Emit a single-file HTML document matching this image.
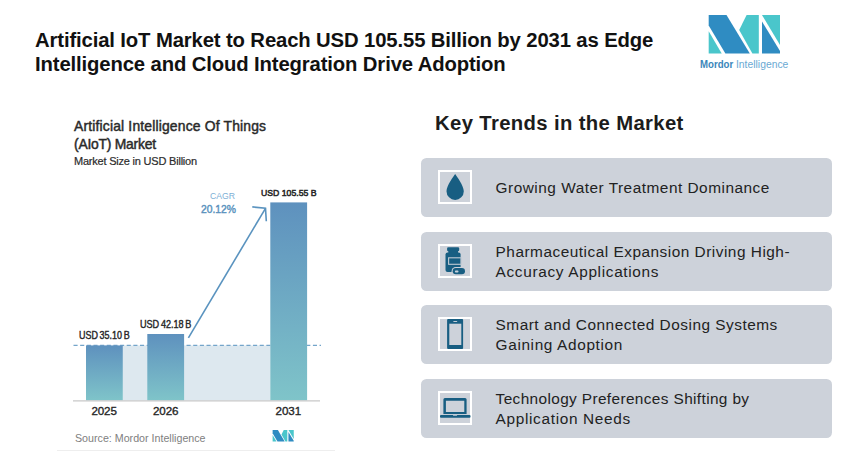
<!DOCTYPE html>
<html><head><meta charset="utf-8">
<style>
*{margin:0;padding:0;box-sizing:border-box}
html,body{width:860px;height:472px;background:#fff;overflow:hidden;font-family:"Liberation Sans",sans-serif}
.a{position:absolute;white-space:nowrap}
.sx{transform-origin:0 0}
.t1{font-weight:bold;font-size:20.3px;line-height:24px;color:#111;left:35px;letter-spacing:-0.13px}
.kt{font-weight:bold;font-size:20.3px;line-height:24px;color:#1c1c1c;left:435px;top:110.5px;letter-spacing:0.36px}
.card{position:absolute;left:421.1px;width:410.7px;height:58.8px;background:#cdd2da;border-radius:5.5px}
.ib{position:absolute;left:16.9px;top:12px;width:34.3px;height:34px;border:2px solid #fff}
.ib svg{position:absolute;left:0;top:0}
.ct{position:absolute;left:74.5px;font-size:15.4px;line-height:20px;color:#222;white-space:nowrap;letter-spacing:0.5px}
.ch1{font-size:13.9px;line-height:18px;color:#2a2a2a;left:74px;-webkit-text-stroke:0.45px #2a2a2a;letter-spacing:0.17px}
.lbl{font-size:10.1px;line-height:12px;color:#262626;-webkit-text-stroke:0.4px #262626;word-spacing:-0.9px}
.yr{font-size:11.6px;line-height:14px;color:#262626;-webkit-text-stroke:0.35px #262626;letter-spacing:-0.1px}
</style></head><body>
<div class="a t1" style="top:27.5px">Artificial IoT Market to Reach USD 105.55 Billion by 2031 as Edge</div>
<div class="a t1" style="top:51.5px">Intelligence and Cloud Integration Drive Adoption</div>

<!-- logo -->
<svg class="a" style="left:0;top:0" width="860" height="80" viewBox="0 0 860 80">
  <polygon points="708.7,15.1 726.5,15.1 749.8,53.4 725.4,53.4 708.7,25.4" fill="#2f8cc2"/>
  <polygon points="708.7,31.2 708.7,53.4 721.7,53.4" fill="#4ac6cb"/>
  <polygon points="746.6,15.1 758.8,15.1 758.8,53.4 752.4,53.4 739.2,30.1" fill="#4ac6cb"/>
  <polygon points="762,15.1 780,15.1 780,45" fill="#4ac6cb"/>
  <polygon points="762,21.6 780,51 780,53.4 762,53.4" fill="#2f8cc2"/>
</svg>
<div class="a sx" style="left:699.6px;top:57.8px;font-size:11px;line-height:13px;color:#3b86ba;font-weight:bold;transform:scaleX(0.875)">Mordor</div>
<div class="a sx" style="left:735.6px;top:57.8px;font-size:11px;line-height:13px;color:#6aa9d3;transform:scaleX(0.94)">Intelligence</div>

<!-- chart -->
<div class="a ch1" style="top:116.7px">Artificial Intelligence Of Things</div>
<div class="a ch1" style="top:134.5px;letter-spacing:-0.24px">(AIoT) Market</div>
<div class="a" style="left:74px;top:154.5px;font-size:11px;line-height:13px;color:#2c2c2c;-webkit-text-stroke:0.2px #2c2c2c;letter-spacing:-0.21px">Market Size in USD Billion</div>

<svg class="a" style="left:0;top:0" width="430" height="472" viewBox="0 0 430 472">
  <defs>
    <linearGradient id="bg" x1="0" y1="0" x2="0" y2="1">
      <stop offset="0" stop-color="#5e91be"/>
      <stop offset="1" stop-color="#7fc4c9"/>
    </linearGradient>
    <linearGradient id="bg2" gradientUnits="userSpaceOnUse" x1="0" y1="202.4" x2="0" y2="400.4">
      <stop offset="0" stop-color="#5e91be"/>
      <stop offset="1" stop-color="#7fc4c9"/>
    </linearGradient>
  </defs>
  <rect x="122.8" y="345.4" width="147.5" height="55" fill="#dde8ef"/>
  <line x1="73.5" y1="345.4" x2="321" y2="345.4" stroke="#74a5ca" stroke-width="1.1" stroke-dasharray="4.1,2.55"/>
  <rect x="86" y="345.4" width="36.8" height="55" fill="url(#bg)"/>
  <rect x="147.3" y="334" width="36.8" height="66.4" fill="url(#bg)"/>
  <rect x="270.3" y="202.4" width="36.8" height="198" fill="url(#bg2)"/>
  <line x1="73" y1="400.8" x2="320" y2="400.8" stroke="#c8c8c8" stroke-width="1.2"/>
  <line x1="188.4" y1="337.8" x2="265.5" y2="208.3" stroke="#5a93bf" stroke-width="1.6"/>
  <polyline points="252.3,206.9 265.5,208.3 266.3,221.2" fill="none" stroke="#5a93bf" stroke-width="1.6"/>
  <line x1="57" y1="450.5" x2="335" y2="450.5" stroke="#eee" stroke-width="1"/>
  <g transform="translate(272.6,430.1) scale(0.278,0.281)">
    <polygon points="0,0 19,0 43.5,40.5 17.5,40.5 0,11" fill="#2f8cc2"/>
    <polygon points="0,17 0,40.5 14,40.5" fill="#4ac6cb"/>
    <polygon points="40,0 53,0 53,40.5 46,40.5 32,16" fill="#4ac6cb"/>
    <polygon points="57,0 76,0 76,32" fill="#4ac6cb"/>
    <polygon points="57,7 76,38 76,40.5 57,40.5" fill="#2f8cc2"/>
  </g>
</svg>
<div class="a lbl sx" style="left:79.2px;top:329.7px;transform:scaleX(0.887)">USD 35.10 B</div>
<div class="a lbl sx" style="left:140px;top:318.8px;transform:scaleX(0.9)">USD 42.18 B</div>
<div class="a lbl sx" style="left:260.9px;top:186.5px;font-size:9.7px;word-spacing:0;transform:scaleX(0.896);-webkit-text-stroke:0.55px #262626">USD 105.55 B</div>
<div class="a sx" style="left:209.8px;top:189.7px;font-size:9.6px;line-height:12px;color:#7db0d6;transform:scaleX(0.905)">CAGR</div>
<div class="a sx" style="left:200.6px;top:201.6px;font-size:11.4px;line-height:14px;color:#5b93be;-webkit-text-stroke:0.45px #5b93be;transform:scaleX(0.906)">20.12%</div>
<div class="a yr" style="left:91.4px;top:403.8px">2025</div>
<div class="a yr" style="left:153px;top:403.8px">2026</div>
<div class="a yr" style="left:275.6px;top:403.8px">2031</div>
<div class="a sx" style="left:74.6px;top:432.1px;font-size:11.3px;line-height:13px;color:#808080;transform:scaleX(0.945)">Source: Mordor Intelligence</div>

<!-- right panel -->
<div class="a kt">Key Trends in the Market</div>

<div class="card" style="top:158px">
  <div class="ib"><svg width="34.3" height="34" viewBox="0 0 34.3 34" style="left:-2px;top:-2px"><path d="M17.15,3.9 C15.9,5.9 8.5,15.4 8.5,21.25 A8.65,8.65 0 0 0 25.8,21.25 C25.8,15.4 18.4,5.9 17.15,3.9 Z" fill="#185e82"/></svg></div>
  <div class="ct" style="top:19.9px">Growing Water Treatment Dominance</div>
</div>
<div class="card" style="top:231.8px">
  <div class="ib"><svg width="34.3" height="34" viewBox="0 0 34.3 34" style="left:-2px;top:-2px">
<rect x="9.1" y="3.2" width="12.1" height="4" rx="1.2" fill="#185e82"/>
<rect x="10.3" y="6.5" width="9.7" height="2.6" fill="#185e82"/>
<rect x="7.5" y="8.6" width="15.1" height="19.5" rx="2" fill="#185e82"/>
<rect x="10.6" y="13.8" width="12.6" height="6.5" fill="none" stroke="#bfc9d3" stroke-width="1.1"/>
<rect x="13.6" y="23" width="14.5" height="8.3" rx="4.15" fill="#cdd2da"/>
<rect x="14.7" y="24.1" width="12.3" height="6.1" rx="3.05" fill="#185e82"/>
<rect x="16.9" y="26.5" width="3.6" height="1.9" rx="0.9" fill="#c9d2dc"/>
</svg></div>
  <div class="ct" style="top:9.8px">Pharmaceutical Expansion Driving High-</div><div class="ct" style="top:29.8px;letter-spacing:0.66px">Accuracy Applications</div>
</div>
<div class="card" style="top:305.2px">
  <div class="ib"><svg width="34.3" height="34" viewBox="0 0 34.3 34" style="left:-2px;top:-2px">
<rect x="9.1" y="2" width="16" height="30" rx="1" fill="#185e82"/>
<rect x="11.3" y="6.7" width="12" height="21.3" fill="#cdd2da"/>
<rect x="15.2" y="4" width="4.1" height="0.9" rx="0.45" fill="#c3ccd6"/>
</svg></div>
  <div class="ct" style="top:9.9px">Smart and Connected Dosing Systems</div><div class="ct" style="top:29.9px;letter-spacing:0.63px">Gaining Adoption</div>
</div>
<div class="card" style="top:379px">
  <div class="ib"><svg width="34.3" height="34" viewBox="0 0 34.3 34" style="left:-2px;top:-2px">
<path d="M6.9,7.1 H27.1 A1.5,1.5 0 0 1 28.6,8.6 V23 H5.4 V8.6 A1.5,1.5 0 0 1 6.9,7.1 Z M7.9,9.7 V21 H26.3 V9.7 Z" fill="#185e82" fill-rule="evenodd"/>
<rect x="5.4" y="23" width="23.2" height="0.8" fill="#c3ccd6"/>
<rect x="2" y="23.9" width="30.5" height="2.8" rx="1" fill="#185e82"/>
<rect x="15" y="23.9" width="4.1" height="0.9" rx="0.4" fill="#c3ccd6"/>
</svg></div>
  <div class="ct" style="top:9.9px;letter-spacing:0.37px">Technology Preferences Shifting by</div><div class="ct" style="top:29.9px;letter-spacing:0.66px">Application Needs</div>
</div>
</body></html>
